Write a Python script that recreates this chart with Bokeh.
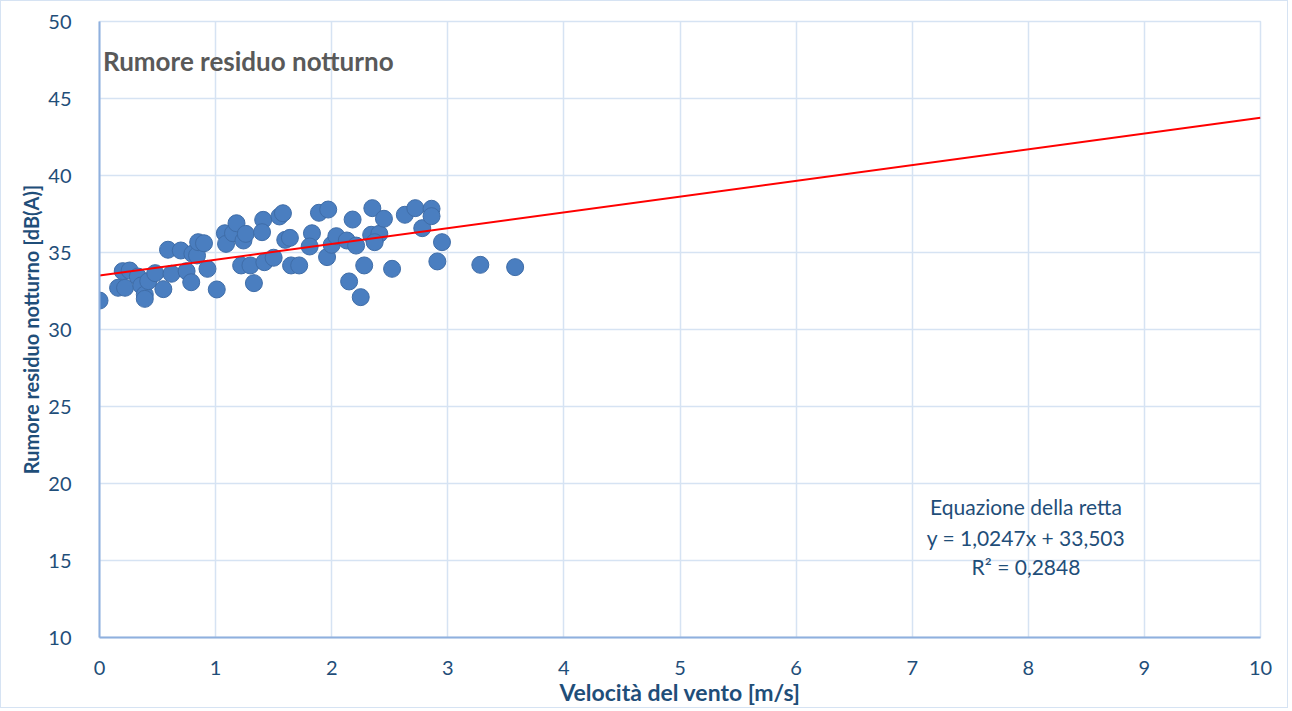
from bokeh.plotting import figure
from bokeh.models import Range1d, FixedTicker, Label, ColumnDataSource
from bokeh.embed import file_html
from bokeh.resources import INLINE

# Data
wind_speed = [0.00, 0.16, 0.22, 0.20, 0.26, 0.33, 0.36, 0.39, 0.39, 0.42,
              0.48, 0.55, 0.59, 0.62, 0.70, 0.75, 0.79, 0.80, 0.84, 0.85,
              0.90, 0.93, 1.01, 1.08, 1.09, 1.15, 1.18, 1.22, 1.24, 1.26,
              1.30, 1.33, 1.41, 1.40, 1.42, 1.50, 1.55, 1.58, 1.60, 1.64,
              1.65, 1.72, 1.83, 1.81, 1.89, 1.97, 1.96, 2.00, 2.04, 2.13,
              2.18, 2.21, 2.15, 2.25, 2.28, 2.35, 2.34, 2.41, 2.37, 2.45,
              2.52, 2.63, 2.72, 2.78, 2.86, 2.86, 2.95, 2.91, 3.28, 3.58]
noise_level = [31.88, 32.71, 32.71, 33.79, 33.83, 33.44, 32.86, 32.27, 31.99, 33.14,
               33.66, 32.62, 35.18, 33.62, 35.13, 33.79, 33.07, 34.92, 34.81, 35.67,
               35.60, 33.94, 32.60, 36.25, 35.56, 36.25, 36.90, 34.16, 35.78, 36.21,
               34.16, 33.01, 37.12, 36.32, 34.37, 34.66, 37.34, 37.55, 35.82, 35.95,
               34.16, 34.16, 36.25, 35.39, 37.58, 37.79, 34.70, 35.50, 36.06, 35.78,
               37.14, 35.45, 33.12, 32.10, 34.16, 37.88, 36.15, 36.21, 35.67, 37.19,
               33.94, 37.45, 37.88, 36.58, 37.84, 37.36, 35.67, 34.42, 34.20, 34.05]

trend_slope = 1.0247
trend_intercept = 33.503
trend_x = [0, 10]

x_ticks = [0, 1, 2, 3, 4, 5, 6, 7, 8, 9, 10]
y_ticks = [10, 15, 20, 25, 30, 35, 40, 45, 50]

title_text = "Rumore residuo notturno"
x_title = "Velocità del vento [m/s]"
y_title = "Rumore residuo notturno [dB(A)]"
eq_lines = ["Equazione della retta", "y = 1,0247x + 33,503", "R² = 0,2848"]

FONT = "Lato"
DARK_BLUE = "#1F4E79"
GRID = "#D6E3F3"
AXIS = "#8FB0DE"

p = figure(width=1288, height=708, output_backend="svg", toolbar_location=None,
           x_range=Range1d(0, 10), y_range=Range1d(10, 50),
           min_border_left=98, min_border_right=29, min_border_top=20, min_border_bottom=72)
p.styles = {"border": "1px solid #D6E3F3"}
p.outline_line_color = GRID
p.outline_line_width = 1.5

p.xaxis.ticker = FixedTicker(ticks=x_ticks)
p.yaxis.ticker = FixedTicker(ticks=y_ticks)
for ax in (p.xaxis[0], p.yaxis[0]):
    ax.axis_line_color = AXIS
    ax.axis_line_width = 2
    ax.major_tick_line_color = None
    ax.minor_tick_line_color = None
    ax.major_label_text_font = FONT
    ax.major_label_text_font_size = "20px"
    ax.major_label_text_color = DARK_BLUE
    ax.axis_label_text_font = FONT
    ax.axis_label_text_font_style = "bold"
    ax.axis_label_text_color = DARK_BLUE
p.xaxis.axis_label_text_font_size = "23px"
p.yaxis.axis_label_text_font_size = "20px"
p.xaxis.major_label_standoff = 17
p.yaxis.major_label_standoff = 22
p.xaxis.axis_label = x_title
p.yaxis.axis_label = y_title
p.xaxis.axis_label_standoff = 0
p.yaxis.axis_label_standoff = 2

p.xgrid.grid_line_color = GRID
p.ygrid.grid_line_color = GRID
p.xgrid.grid_line_width = 1.5
p.ygrid.grid_line_width = 1.5

src = ColumnDataSource(dict(x=wind_speed, y=noise_level))
p.scatter("x", "y", source=src, size=17, marker="circle",
          fill_color="#4A7EC0", line_color="#3F6DA8", line_width=1)

trend_y = [trend_slope * v + trend_intercept for v in trend_x]
p.line(trend_x, trend_y, line_color="#FF0000", line_width=2)

p.add_layout(Label(x=0.03, y=47.45, text=title_text, text_font=FONT,
                   text_font_size="26px", text_font_style="bold",
                   text_color="#595959", text_baseline="middle"))

eq_y = [18.5, 16.5, 14.6]
for line, yy in zip(eq_lines, eq_y):
    p.add_layout(Label(x=7.98, y=yy, text=line, text_font=FONT, text_font_size="21px",
                       text_color=DARK_BLUE, text_align="center", text_baseline="middle"))

open("out.html", "w").write(file_html(p, INLINE))
